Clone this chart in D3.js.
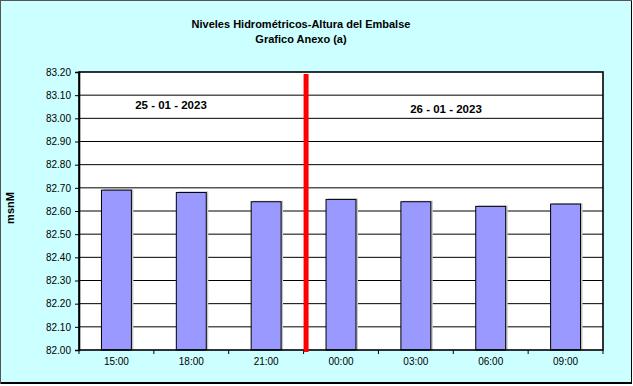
<!DOCTYPE html>
<html>
<head>
<meta charset="utf-8">
<script src="https://cdn.jsdelivr.net/npm/d3@7"></script>
<style>
  html, body { margin: 0; padding: 0; background: #fff; }
  svg { display: block; font-family: Arial, "Liberation Sans", sans-serif; }
</style>
</head>
<body>
<svg id="chart" width="633" height="386"></svg>
<script>
// datos
var horas = ["15:00", "18:00", "21:00", "00:00", "03:00", "06:00", "09:00"];
var niveles = [82.69, 82.68, 82.64, 82.65, 82.64, 82.62, 82.63];
var yTicks = [82.00, 82.10, 82.20, 82.30, 82.40, 82.50, 82.60, 82.70, 82.80, 82.90, 83.00, 83.10, 83.20];
var fechas = ["25 - 01 - 2023", "26 - 01 - 2023"];
var corte = "00:00"; // cambio de dia

var svg = d3.select("#chart"),
    W = +svg.attr("width"),
    H = +svg.attr("height");

var m = {left: 79, right: 603, top: 72, bottom: 350};

// fondo + marco
svg.append("rect").attr("x", 0).attr("y", 0).attr("width", W).attr("height", H).attr("fill", "#fff");
svg.append("rect").attr("x", 0).attr("y", 0).attr("width", 632).attr("height", 384).attr("fill", "#000");
svg.append("rect").attr("x", 1).attr("y", 1).attr("width", 630).attr("height", 381).attr("fill", "#CCFFFF");
svg.append("line").attr("x1", 0.5).attr("x2", 0.5).attr("y1", 0).attr("y2", 384).attr("stroke", "#555");
svg.append("line").attr("x1", 0).attr("x2", 632).attr("y1", 0.5).attr("y2", 0.5).attr("stroke", "#555");

var x = d3.scaleBand().domain(horas).range([m.left, m.right]).paddingInner(0).paddingOuter(0);
var y = d3.scaleLinear().domain([82.0, 83.2]).range([m.bottom, m.top]);

// area de trazado
svg.append("rect")
  .attr("x", m.left).attr("y", m.top)
  .attr("width", m.right - m.left).attr("height", m.bottom - m.top)
  .attr("fill", "#fff");

// lineas de division
svg.append("g").selectAll("line")
  .data(yTicks.slice(1, -1))
  .enter().append("line")
  .attr("x1", m.left).attr("x2", m.right)
  .attr("y1", function(d) { return y(d); })
  .attr("y2", function(d) { return y(d); })
  .attr("stroke", "#000").attr("stroke-width", 1);

// barras (con sombra)
var bw = x.bandwidth() * 0.4;
var barras = svg.append("g");
barras.selectAll("rect.sombra")
  .data(niveles)
  .enter().append("rect")
  .attr("class", "sombra")
  .attr("x", function(d, i) { return x(horas[i]) + (x.bandwidth() - bw) / 2 + 2; })
  .attr("y", function(d) { return y(d) - 1; })
  .attr("width", bw)
  .attr("height", function(d) { return y(82.0) - y(d) + 1; })
  .attr("fill", "#c8c8c8");
barras.selectAll("rect.barra")
  .data(niveles)
  .enter().append("rect")
  .attr("class", "barra")
  .attr("x", function(d, i) { return x(horas[i]) + (x.bandwidth() - bw) / 2; })
  .attr("y", function(d) { return y(d); })
  .attr("width", bw)
  .attr("height", function(d) { return y(82.0) - y(d); })
  .attr("fill", "#9999FF")
  .attr("stroke", "#000").attr("stroke-width", 1);

// borde del area
svg.append("rect")
  .attr("x", m.left).attr("y", m.top)
  .attr("width", m.right - m.left).attr("height", m.bottom - m.top)
  .attr("fill", "none").attr("stroke", "#000").attr("stroke-width", 1.6);

// eje Y
var yAxis = svg.append("g")
  .attr("transform", "translate(" + m.left + ",0)")
  .call(d3.axisLeft(y).tickValues(yTicks).tickFormat(d3.format(".2f")).tickSize(4).tickPadding(4));
yAxis.select(".domain").attr("stroke-width", 1.6);
yAxis.selectAll("text").attr("font-size", 10).attr("fill", "#000").style("font-family", "Arial, 'Liberation Sans', sans-serif");

// eje X: marcas en los limites de categoria
var limites = horas.map(function(h) { return x(h); }).concat([m.right]);
svg.append("g").selectAll("line")
  .data(limites)
  .enter().append("line")
  .attr("x1", function(d) { return d; }).attr("x2", function(d) { return d; })
  .attr("y1", m.bottom).attr("y2", m.bottom + 4)
  .attr("stroke", "#000").attr("stroke-width", 1);
svg.append("g").selectAll("text")
  .data(horas)
  .enter().append("text")
  .attr("x", function(d) { return x(d) + x.bandwidth() / 2; })
  .attr("y", 365)
  .attr("text-anchor", "middle")
  .attr("font-size", 10)
  .text(function(d) { return d; });

// linea roja de cambio de dia
var xc = x(corte) + 2.5;
svg.append("line")
  .attr("x1", xc).attr("x2", xc)
  .attr("y1", m.top + 2).attr("y2", m.bottom + 2)
  .attr("stroke", "#FF0000").attr("stroke-width", 5);

// fechas
svg.append("text").attr("x", 171).attr("y", 109).attr("text-anchor", "middle")
  .attr("font-size", 11.5).attr("font-weight", "bold").text(fechas[0]);
svg.append("text").attr("x", 446).attr("y", 113).attr("text-anchor", "middle")
  .attr("font-size", 11.5).attr("font-weight", "bold").text(fechas[1]);

// titulo
svg.append("text").attr("x", 301).attr("y", 27.5).attr("text-anchor", "middle")
  .attr("font-size", 11).attr("font-weight", "bold").text("Niveles Hidrométricos-Altura del Embalse");
svg.append("text").attr("x", 301).attr("y", 42.5).attr("text-anchor", "middle")
  .attr("font-size", 11).attr("font-weight", "bold").text("Grafico Anexo (a)");

// titulo eje Y
svg.append("text")
  .attr("transform", "translate(14,208) rotate(-90)")
  .attr("text-anchor", "middle")
  .attr("font-size", 11).attr("font-weight", "bold").text("msnM");
</script>
</body>
</html>
